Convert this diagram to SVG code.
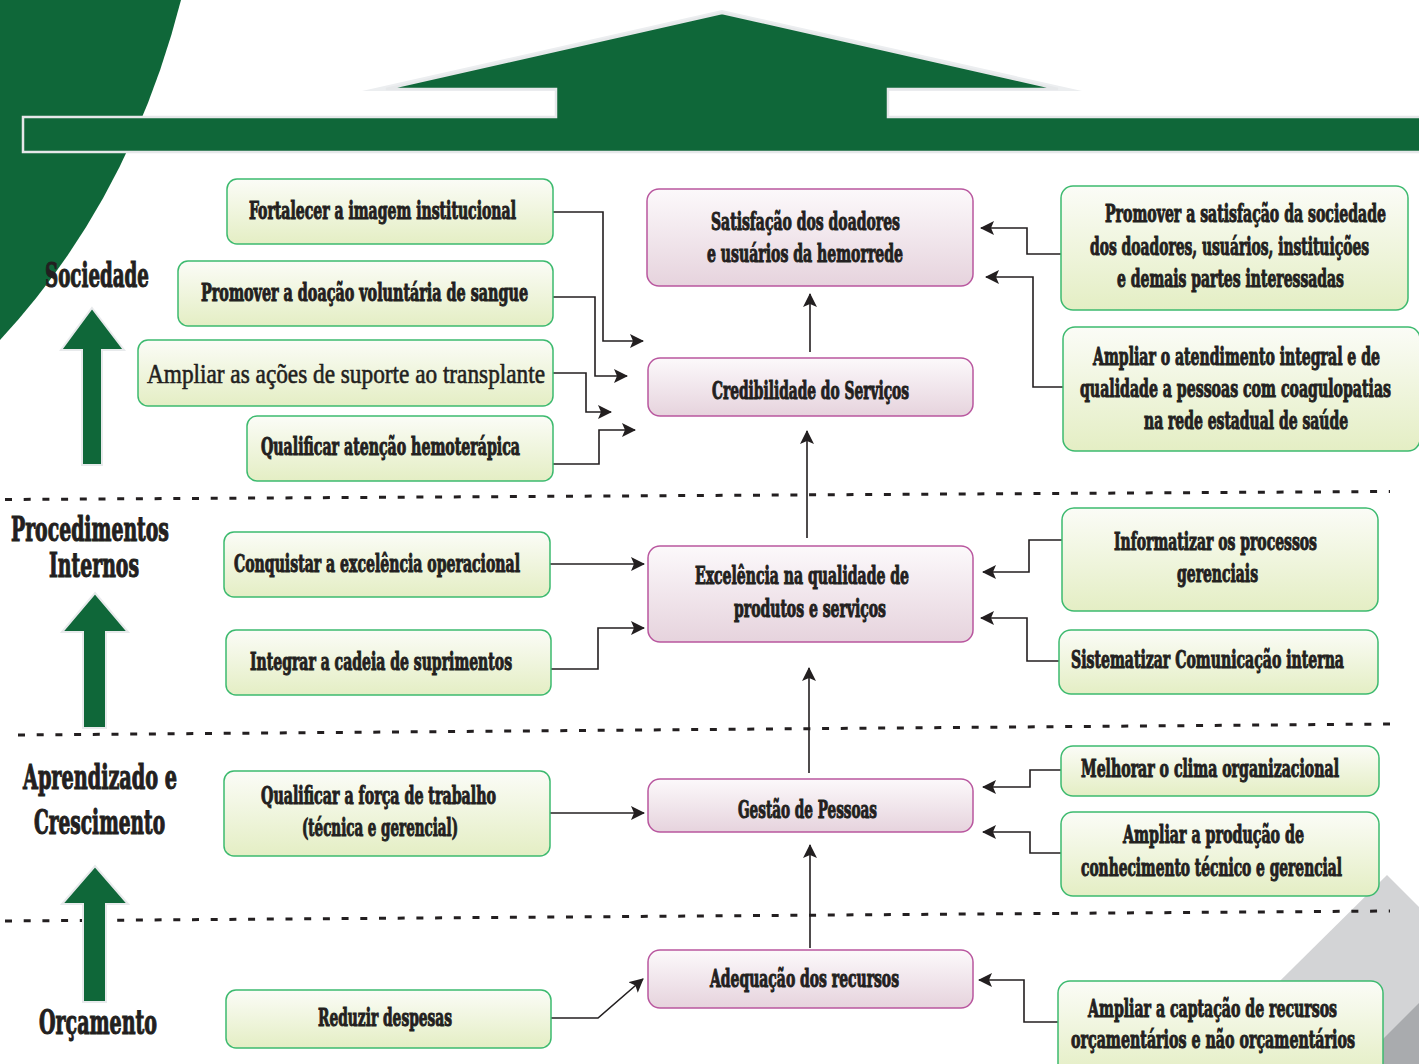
<svg xmlns="http://www.w3.org/2000/svg" width="1419" height="1064" viewBox="0 0 1419 1064">
<defs>
<linearGradient id="gG" x1="0" y1="0" x2="0" y2="1"><stop offset="0" stop-color="#fbfcf7"/><stop offset="1" stop-color="#e4eec4"/></linearGradient>
<linearGradient id="gP" x1="0" y1="0" x2="0" y2="1"><stop offset="0" stop-color="#fcf9fb"/><stop offset="1" stop-color="#e6d3dd"/></linearGradient>
<marker id="ah" viewBox="0 0 14 14" refX="13" refY="7" markerWidth="14" markerHeight="14" markerUnits="userSpaceOnUse" orient="auto"><path d="M0,0 L14,7 L0,14 L3,7 Z" fill="#231f20"/></marker>
<style>
.gb{fill:url(#gG);stroke:#3dba6f;stroke-width:1.5}
.pb{fill:url(#gP);stroke:#b9579f;stroke-width:1.5}
.t{font-family:"DejaVu Serif Condensed","DejaVu Serif","Liberation Serif",serif;font-weight:bold;font-size:24px;fill:#231f20;stroke:#231f20;stroke-width:1;font-stretch:condensed}
.tr{font-family:"Liberation Serif","Times New Roman",serif;font-weight:normal;font-size:27px;fill:#231f20;stroke:#231f20;stroke-width:0.6}
.lb{font-family:"DejaVu Serif Condensed","DejaVu Serif","Liberation Serif",serif;font-weight:bold;font-size:33px;fill:#231f20;stroke:#231f20;stroke-width:1.1;font-stretch:condensed}
.c{fill:none;stroke:#231f20;stroke-width:1.6;marker-end:url(#ah)}
.d{fill:none;stroke:#231f20;stroke-width:3;stroke-dasharray:7 11.7}
.ga{fill:#0f6739;stroke:#e8eaec;stroke-width:2}
</style>
</defs>
<rect width="1419" height="1064" fill="#ffffff"/>
<g id="background">
<path d="M0,0 L181,0 Q130,200 0,340 Z" fill="#0f6739"/>
<path d="M1387,875 L1419,907 L1419,1064 L1196,1064 Z" fill="#d3d4d6"/>
<path d="M1419,1003 L1419,1064 L1358,1064 Z" fill="#a9abae"/>
<path d="M362,91 L722,10 L1082,91 Z" fill="#eceef0"/>
<path d="M23,117 L556,117 L556,89 L386,89 L722,13 L1058,89 L888,89 L888,117 L1425,117 L1425,152 L23,152 Z" fill="#0f6739" stroke="#e6e8ea" stroke-width="2.5"/>
</g>
<g id="dividers">
<path class="d" d="M5,499.5 L1390,491.5"/>
<path class="d" d="M18,735 L1390,724"/>
<path class="d" d="M5,921 L1390,911"/>
</g>
<g id="perspective-arrows">
<path class="ga" d="M92,308 L124,350 L102,350 L102,465 L82,465 L82,350 L61,350 Z"/>
<path class="ga" d="M95,593 L128,632 L106,632 L106,728 L83,728 L83,632 L62,632 Z"/>
<path class="ga" d="M95,866 L128,904 L106,904 L106,1002 L83,1002 L83,904 L62,904 Z"/>
</g>
<g id="labels">
<text class="lb" transform="translate(45,287) scale(0.62,1)" textLength="167.7" lengthAdjust="spacingAndGlyphs">Sociedade</text>
<text class="lb" transform="translate(11,541) scale(0.62,1)" textLength="254.8" lengthAdjust="spacingAndGlyphs">Procedimentos</text>
<text class="lb" transform="translate(49,577) scale(0.62,1)" textLength="145.2" lengthAdjust="spacingAndGlyphs">Internos</text>
<text class="lb" transform="translate(23,789) scale(0.62,1)" textLength="248.4" lengthAdjust="spacingAndGlyphs">Aprendizado e</text>
<text class="lb" transform="translate(34,834) scale(0.62,1)" textLength="211.3" lengthAdjust="spacingAndGlyphs">Crescimento</text>
<text class="lb" transform="translate(39,1034) scale(0.62,1)" textLength="190.3" lengthAdjust="spacingAndGlyphs">Orçamento</text>
</g>
<g id="connectors">
<path class="c" d="M553,212 H603 V341 H643"/>
<path class="c" d="M553,297 H595 V376 H627"/>
<path class="c" d="M553,373 H586 V412 H611"/>
<path class="c" d="M553,464 H599 V430 H635"/>
<path class="c" d="M550,564 H644"/>
<path class="c" d="M551,669 H598 V628 H644"/>
<path class="c" d="M550,813 H644"/>
<path class="c" d="M551,1018 H598 L643,979"/>
<path class="c" d="M810,352 V294"/>
<path class="c" d="M807,538 V431"/>
<path class="c" d="M809,773 V668"/>
<path class="c" d="M810,948 V845"/>
<path class="c" d="M1061,254 H1027 V228 H981"/>
<path class="c" d="M1063,387 H1033 V277 H986"/>
<path class="c" d="M1062,540 H1029 V572 H983"/>
<path class="c" d="M1059,661 H1027 V618 H981"/>
<path class="c" d="M1061,770 H1030 V787 H983"/>
<path class="c" d="M1061,853 H1030 V832 H983"/>
<path class="c" d="M1058,1022 H1024 V980 H979"/>
</g>
<g id="n-fortalecer"><rect class="gb" x="227" y="179" width="326" height="65" rx="10"/><text class="t" transform="translate(249,219) scale(0.6,1)" textLength="445" lengthAdjust="spacingAndGlyphs">Fortalecer a imagem institucional</text></g>
<g id="n-promover-doacao"><rect class="gb" x="178" y="261" width="375" height="65" rx="10"/><text class="t" transform="translate(201,301) scale(0.6,1)" textLength="545" lengthAdjust="spacingAndGlyphs">Promover a doação voluntária de sangue</text></g>
<g id="n-ampliar-transplante"><rect class="gb" x="138" y="340" width="415" height="66" rx="10"/><text class="tr" transform="translate(147,383) scale(0.8,1)" textLength="497.5" lengthAdjust="spacingAndGlyphs">Ampliar as ações de suporte ao transplante</text></g>
<g id="n-qualificar-atencao"><rect class="gb" x="247" y="416" width="306" height="65" rx="10"/><text class="t" transform="translate(261,455) scale(0.6,1)" textLength="431.7" lengthAdjust="spacingAndGlyphs">Qualificar atenção hemoterápica</text></g>
<g id="n-conquistar"><rect class="gb" x="224" y="532" width="326" height="65" rx="10"/><text class="t" transform="translate(234,572) scale(0.6,1)" textLength="476.7" lengthAdjust="spacingAndGlyphs">Conquistar a excelência operacional</text></g>
<g id="n-integrar"><rect class="gb" x="226" y="630" width="325" height="65" rx="10"/><text class="t" transform="translate(250,670) scale(0.6,1)" textLength="436.7" lengthAdjust="spacingAndGlyphs">Integrar a cadeia de suprimentos</text></g>
<g id="n-qualificar-forca"><rect class="gb" x="224" y="771" width="326" height="85" rx="10"/><text class="t" transform="translate(261,804) scale(0.6,1)" textLength="391.7" lengthAdjust="spacingAndGlyphs">Qualificar a força de trabalho</text><text class="t" transform="translate(302,836) scale(0.6,1)" textLength="260" lengthAdjust="spacingAndGlyphs">(técnica e gerencial)</text></g>
<g id="n-reduzir"><rect class="gb" x="226" y="990" width="325" height="58" rx="10"/><text class="t" transform="translate(318,1026) scale(0.6,1)" textLength="223.3" lengthAdjust="spacingAndGlyphs">Reduzir despesas</text></g>
<g id="n-satisfacao"><rect class="pb" x="647" y="189" width="326" height="97" rx="12"/><text class="t" transform="translate(711,230) scale(0.6,1)" textLength="315" lengthAdjust="spacingAndGlyphs">Satisfação dos doadores</text><text class="t" transform="translate(707,262) scale(0.6,1)" textLength="326.7" lengthAdjust="spacingAndGlyphs">e usuários da hemorrede</text></g>
<g id="n-credibilidade"><rect class="pb" x="648" y="358" width="325" height="58" rx="12"/><text class="t" transform="translate(712,399) scale(0.6,1)" textLength="328.3" lengthAdjust="spacingAndGlyphs">Credibilidade do Serviços</text></g>
<g id="n-excelencia"><rect class="pb" x="648" y="546" width="325" height="96" rx="12"/><text class="t" transform="translate(695,584) scale(0.6,1)" textLength="356.7" lengthAdjust="spacingAndGlyphs">Excelência na qualidade de</text><text class="t" transform="translate(734,617) scale(0.6,1)" textLength="253.3" lengthAdjust="spacingAndGlyphs">produtos e serviços</text></g>
<g id="n-gestao"><rect class="pb" x="648" y="779" width="325" height="53" rx="12"/><text class="t" transform="translate(738,818) scale(0.6,1)" textLength="231.7" lengthAdjust="spacingAndGlyphs">Gestão de Pessoas</text></g>
<g id="n-adequacao"><rect class="pb" x="648" y="950" width="325" height="58" rx="12"/><text class="t" transform="translate(710,987) scale(0.6,1)" textLength="315" lengthAdjust="spacingAndGlyphs">Adequação dos recursos</text></g>
<g id="n-promover-satisfacao"><rect class="gb" x="1061" y="186" width="347" height="124" rx="12"/><text class="t" transform="translate(1105,222) scale(0.6,1)" textLength="468.3" lengthAdjust="spacingAndGlyphs">Promover a satisfação da sociedade</text><text class="t" transform="translate(1090,255) scale(0.6,1)" textLength="465" lengthAdjust="spacingAndGlyphs">dos doadores, usuários, instituições</text><text class="t" transform="translate(1117,287) scale(0.6,1)" textLength="378.3" lengthAdjust="spacingAndGlyphs">e demais partes interessadas</text></g>
<g id="n-ampliar-atendimento"><rect class="gb" x="1063" y="327" width="357" height="124" rx="12"/><text class="t" transform="translate(1093,365) scale(0.6,1)" textLength="478.3" lengthAdjust="spacingAndGlyphs">Ampliar o atendimento integral e de</text><text class="t" transform="translate(1080,397) scale(0.6,1)" textLength="518.3" lengthAdjust="spacingAndGlyphs">qualidade a pessoas com coagulopatias</text><text class="t" transform="translate(1144,429) scale(0.6,1)" textLength="340" lengthAdjust="spacingAndGlyphs">na rede estadual de saúde</text></g>
<g id="n-informatizar"><rect class="gb" x="1062" y="508" width="316" height="103" rx="12"/><text class="t" transform="translate(1114,550) scale(0.6,1)" textLength="338.3" lengthAdjust="spacingAndGlyphs">Informatizar os processos</text><text class="t" transform="translate(1177,582) scale(0.6,1)" textLength="135" lengthAdjust="spacingAndGlyphs">gerenciais</text></g>
<g id="n-sistematizar"><rect class="gb" x="1059" y="630" width="319" height="64" rx="12"/><text class="t" transform="translate(1071,668) scale(0.6,1)" textLength="455" lengthAdjust="spacingAndGlyphs">Sistematizar Comunicação interna</text></g>
<g id="n-melhorar"><rect class="gb" x="1061" y="746" width="318" height="50" rx="12"/><text class="t" transform="translate(1081,777) scale(0.6,1)" textLength="430" lengthAdjust="spacingAndGlyphs">Melhorar o clima organizacional</text></g>
<g id="n-ampliar-producao"><rect class="gb" x="1061" y="812" width="318" height="84" rx="12"/><text class="t" transform="translate(1123,843) scale(0.6,1)" textLength="301.7" lengthAdjust="spacingAndGlyphs">Ampliar a produção de</text><text class="t" transform="translate(1081,876) scale(0.6,1)" textLength="435" lengthAdjust="spacingAndGlyphs">conhecimento técnico e gerencial</text></g>
<g id="n-ampliar-captacao"><rect class="gb" x="1058" y="981" width="325" height="95" rx="12"/><text class="t" transform="translate(1088,1017) scale(0.6,1)" textLength="415" lengthAdjust="spacingAndGlyphs">Ampliar a captação de recursos</text><text class="t" transform="translate(1071,1048) scale(0.6,1)" textLength="473.3" lengthAdjust="spacingAndGlyphs">orçamentários e não orçamentários</text></g>
</svg>
